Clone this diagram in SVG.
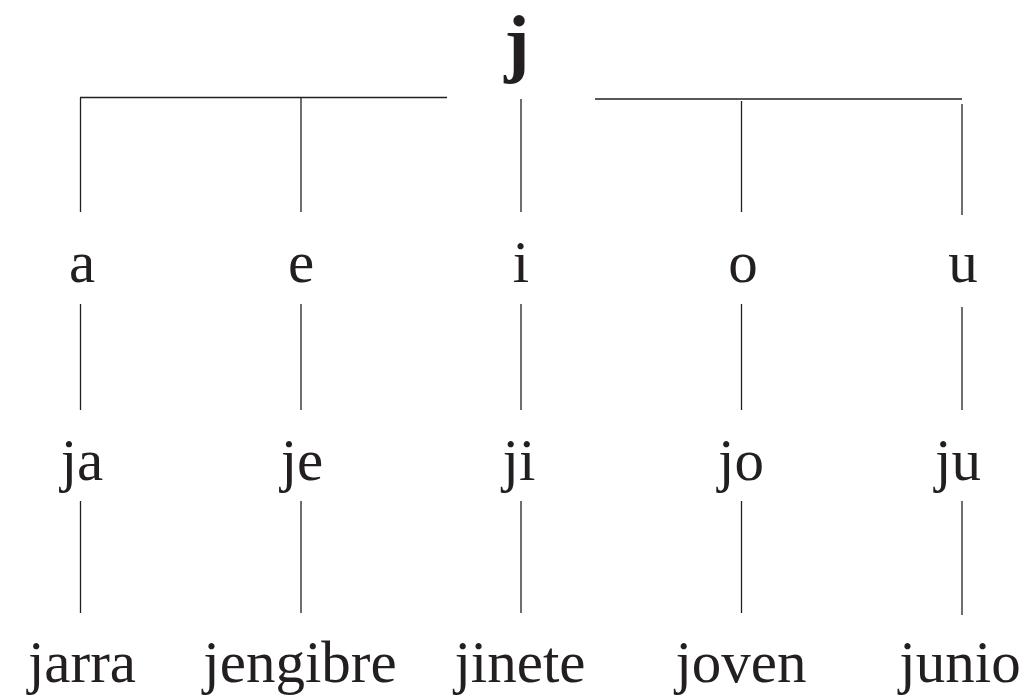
<svg xmlns="http://www.w3.org/2000/svg" width="1033" height="698" viewBox="0 0 1033 698">
<style>
text{font-family:"Liberation Serif","Times New Roman",serif;fill:#231f20;text-anchor:middle}
.t{font-size:59px}
.root{font-size:76px;font-weight:bold}
.c line{stroke:#231f20;stroke-width:1.3;fill:none}
</style>
<rect width="1033" height="698" fill="#fff"/>
<g class="c" id="connectors">
<line x1="80" y1="97.5" x2="447" y2="97.5"/>
<line x1="595" y1="99" x2="962" y2="99"/>
<line x1="80.5" y1="97.5" x2="80.5" y2="212"/>
<line x1="301" y1="97.5" x2="301" y2="212"/>
<line x1="521" y1="99" x2="521" y2="212"/>
<line x1="741.5" y1="101" x2="741.5" y2="212"/>
<line x1="962" y1="104" x2="962" y2="215"/>
<line x1="80.5" y1="304" x2="80.5" y2="410"/>
<line x1="301" y1="304" x2="301" y2="410"/>
<line x1="521" y1="304" x2="521" y2="410"/>
<line x1="741.5" y1="304" x2="741.5" y2="410"/>
<line x1="962" y1="307" x2="962" y2="410"/>
<line x1="80.5" y1="501" x2="80.5" y2="613"/>
<line x1="301" y1="501" x2="301" y2="613"/>
<line x1="521" y1="501" x2="521" y2="613"/>
<line x1="741.5" y1="501" x2="741.5" y2="613"/>
<line x1="962" y1="501" x2="962" y2="615"/>
</g>
<g id="n-j"><text class="root" x="517" y="68">j</text></g>
<g id="n-a"><text class="t" x="82" y="282">a</text></g>
<g id="n-e"><text class="t" x="301" y="282">e</text></g>
<g id="n-i"><text class="t" x="521" y="282">i</text></g>
<g id="n-o"><text class="t" x="743" y="282">o</text></g>
<g id="n-u"><text class="t" x="963" y="282">u</text></g>
<g id="n-ja"><text class="t" x="82" y="480">ja</text></g>
<g id="n-je"><text class="t" x="302" y="480">je</text></g>
<g id="n-ji"><text class="t" x="519" y="480">ji</text></g>
<g id="n-jo"><text class="t" x="741" y="480">jo</text></g>
<g id="n-ju"><text class="t" x="958" y="480">ju</text></g>
<g id="n-jarra"><text class="t" x="82" y="682">jarra</text></g>
<g id="n-jengibre"><text class="t" x="300" y="682">jengibre</text></g>
<g id="n-jinete"><text class="t" x="520" y="682">jinete</text></g>
<g id="n-joven"><text class="t" x="741" y="682">joven</text></g>
<g id="n-junio"><text class="t" x="960" y="682">junio</text></g>
</svg>
